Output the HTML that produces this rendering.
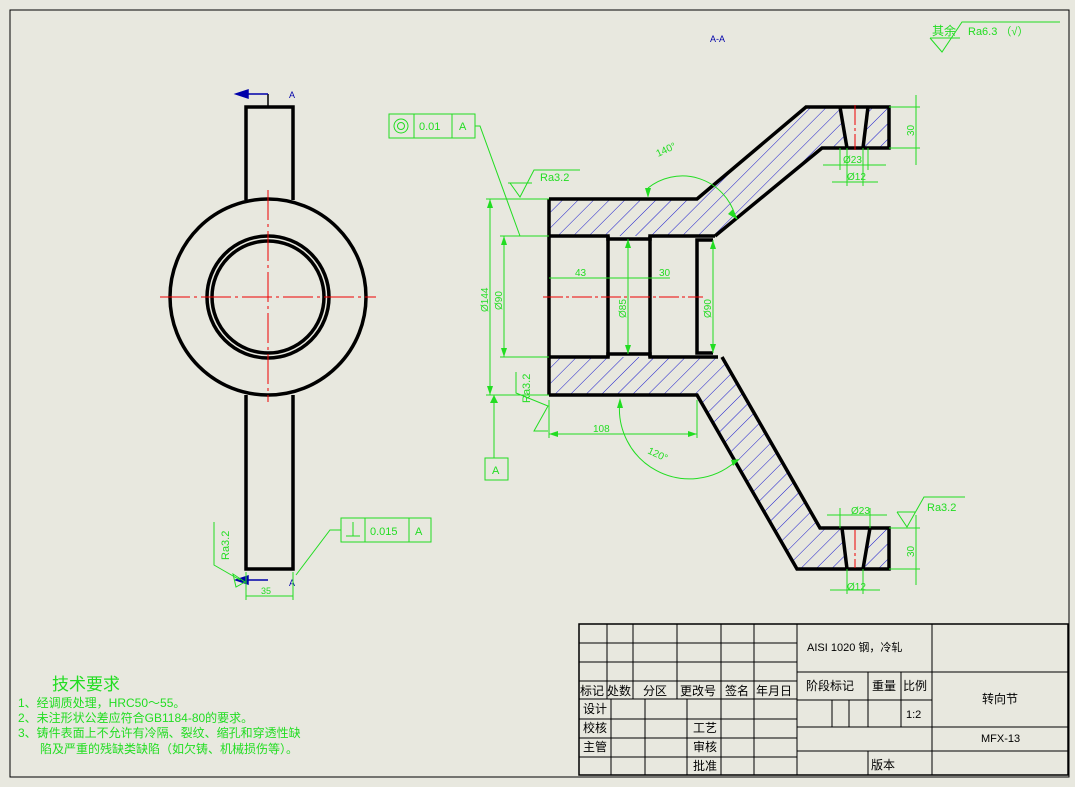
<!DOCTYPE html>
<html><head><meta charset="utf-8"><style>
html,body{margin:0;padding:0;background:#e8e8df;}
svg{display:block}
text{font-family:"Liberation Sans","Noto Sans CJK SC",sans-serif;}
</style></head><body>
<svg width="1075" height="787" viewBox="0 0 1075 787" xmlns="http://www.w3.org/2000/svg">
<defs>
<pattern id="h" patternUnits="userSpaceOnUse" width="11" height="11" patternTransform="rotate(45)">
<line x1="0" y1="0" x2="0" y2="11" stroke="#1a1acc" stroke-width="1"/>
</pattern>
</defs>
<rect width="1075" height="787" fill="#e8e8df"/>
<rect x="10" y="10" width="1059" height="767" fill="none" stroke="#000" stroke-width="1"/>

<g stroke="#000" stroke-width="3.5" fill="none">
<circle cx="268" cy="297" r="98"/>
<circle cx="268" cy="297" r="61"/>
<circle cx="268" cy="297" r="56"/>
<polyline points="246,200 246,107 293,107 293,200"/>
<polyline points="246,395 246,569 293,569 293,395"/>
</g>
<g stroke="#e00" stroke-width="1">
<line x1="268" y1="190" x2="268" y2="402" stroke-dasharray="30,4,3,4"/>
<line x1="160" y1="297" x2="376" y2="297" stroke-dasharray="30,4,3,4"/>
</g>
<g stroke="#00a" stroke-width="1.5" fill="#00a">
<line x1="268" y1="94" x2="268" y2="107" stroke="#000"/>
<line x1="240" y1="94" x2="268" y2="94"/><polygon points="236,94 248,90 248,98"/>
<line x1="240" y1="580" x2="268" y2="580"/><polygon points="236,580 248,576 248,584"/>
</g>
<text x="289" y="98" font-size="9" fill="#00a">A</text>
<text x="289" y="586" font-size="9" fill="#00a">A</text>
<text x="710" y="42" font-size="9" fill="#00a">A-A</text>

<g stroke="#2d2" stroke-width="1" fill="none">
<line x1="246" y1="572" x2="246" y2="600"/><line x1="293" y1="572" x2="293" y2="600"/>
<line x1="246" y1="596" x2="293" y2="596"/>
<polyline points="214,522 214,565 240,580"/>
<polygon points="233,574 245,582 236,587"/>
<rect x="341" y="518" width="90" height="24"/>
<line x1="365" y1="518" x2="365" y2="542"/><line x1="409" y1="518" x2="409" y2="542"/>
<line x1="346" y1="536" x2="360" y2="536"/><line x1="353" y1="522" x2="353" y2="536"/>
<polyline points="341,530 330,530 296,575"/>
</g>
<text x="261" y="594" font-size="9" fill="#2d2">35</text>
<text transform="translate(229,560) rotate(-90)" font-size="11" fill="#2d2">Ra3.2</text>
<text x="370" y="535" font-size="11" fill="#2d2">0.015</text>
<text x="415" y="535" font-size="11" fill="#2d2">A</text>

<polygon points="549,199 697,199 806,107 889,107 889,148 822,148 715,236 549,236" fill="url(#h)"/>
<polygon points="549,357 722,357 820,528 889,528 889,569 797,569 697,395 549,395" fill="url(#h)"/>
<polygon points="840,107 868,107 863,148 847,148" fill="#e8e8df"/>
<polygon points="842,528 870,528 863,569 847,569" fill="#e8e8df"/>
<g stroke="#000" stroke-width="3.5" fill="none" stroke-linejoin="miter">
<polyline points="549,199 697,199 806,107 889,107 889,148 822,148 715,236"/>
<polyline points="549,395 697,395 797,569 889,569 889,528 820,528 722,357"/>
<line x1="549" y1="199" x2="549" y2="395"/>
<polyline points="549,236 608,236 608,239 650,239 650,236 715,236"/>
<polyline points="549,357 608,357 608,354 650,354 650,357 718,357"/>
<line x1="608" y1="236" x2="608" y2="357"/>
<line x1="650" y1="236" x2="650" y2="357"/>
<polyline points="713,240 697,240 697,353 713,353"/>
<line x1="840" y1="107" x2="847" y2="148"/><line x1="868" y1="107" x2="863" y2="148"/>
<line x1="842" y1="528" x2="847" y2="569"/><line x1="870" y1="528" x2="863" y2="569"/>
</g>
<g stroke="#e00" stroke-width="1" stroke-dasharray="20,3,3,3">
<line x1="543" y1="297" x2="703" y2="297"/>
<line x1="855" y1="105" x2="855" y2="150"/>
<line x1="855" y1="530" x2="855" y2="568"/>
</g>

<g stroke="#2d2" stroke-width="1" fill="none">
<line x1="486" y1="199" x2="549" y2="199"/><line x1="490" y1="199" x2="490" y2="395"/>
<line x1="486" y1="395" x2="549" y2="395"/>
<line x1="500" y1="236" x2="549" y2="236"/><line x1="504" y1="236" x2="504" y2="357"/>
<line x1="500" y1="357" x2="549" y2="357"/>
<line x1="549" y1="278" x2="670" y2="278"/>
<line x1="628" y1="239" x2="628" y2="354"/>
<line x1="713" y1="240" x2="713" y2="353"/>
<line x1="549" y1="400" x2="549" y2="438"/><line x1="697" y1="400" x2="697" y2="438"/>
<line x1="549" y1="434" x2="697" y2="434"/>
<path d="M648,188 A55,55 0 0 1 735,215"/>
<path d="M620,400 A70,70 0 0 0 735,462"/>
<line x1="889" y1="107" x2="920" y2="107"/><line x1="889" y1="148" x2="920" y2="148"/>
<line x1="916" y1="95" x2="916" y2="165"/>
<line x1="889" y1="528" x2="920" y2="528"/><line x1="889" y1="569" x2="920" y2="569"/>
<line x1="916" y1="515" x2="916" y2="585"/>
<line x1="840" y1="148" x2="840" y2="170"/><line x1="868" y1="148" x2="868" y2="170"/>
<line x1="823" y1="165" x2="886" y2="165"/>
<line x1="847" y1="148" x2="847" y2="186"/><line x1="863" y1="148" x2="863" y2="186"/>
<line x1="832" y1="182" x2="878" y2="182"/>
<line x1="840" y1="508" x2="840" y2="528"/><line x1="870" y1="508" x2="870" y2="528"/>
<line x1="827" y1="515" x2="887" y2="515"/>
<line x1="847" y1="569" x2="847" y2="594"/><line x1="863" y1="569" x2="863" y2="594"/>
<line x1="830" y1="590" x2="880" y2="590"/>
<rect x="389" y="114" width="86" height="24"/>
<line x1="414" y1="114" x2="414" y2="138"/><line x1="452" y1="114" x2="452" y2="138"/>
<circle cx="401" cy="126" r="7"/><circle cx="401" cy="126" r="3.5"/>
<polyline points="475,126 480,126 520,236"/>
<polyline points="510,183 520,197 534,170 580,170"/><line x1="508" y1="183" x2="532" y2="183"/>
<polyline points="516,372 516,393 548,406 534,431 548,431"/>
<line x1="494" y1="395" x2="494" y2="458"/><rect x="485" y="458" width="23" height="22"/>
<polyline points="897,512 907,527 924,497 965,497"/><line x1="897" y1="512" x2="915" y2="512"/>
<polyline points="930,38 942,52 962,22 1060,22"/><line x1="930" y1="38" x2="960" y2="38"/>
</g>
<g fill="#2d2">
<polygon points="490,199 487,208 493,208"/><polygon points="490,395 487,386 493,386"/>
<polygon points="504,236 501,245 507,245"/><polygon points="504,357 501,348 507,348"/>
<polygon points="628,239 625,248 631,248"/><polygon points="628,354 625,345 631,345"/>
<polygon points="713,240 710,249 716,249"/><polygon points="713,353 710,344 716,344"/>
<polygon points="549,434 558,431 558,437"/><polygon points="697,434 688,431 688,437"/>
<polygon points="494,395 490,403 498,403"/>
<polygon points="648,198 645,188 651,188"/><polygon points="738,220 728,214 733,209"/>
<polygon points="620,398 617,408 623,408"/><polygon points="740,459 731,460 733,466"/>
</g>
<g fill="#2d2" font-size="10">
<text transform="translate(488,312) rotate(-90)">Ø144</text>
<text transform="translate(502,310) rotate(-90)">Ø90</text>
<text transform="translate(626,318) rotate(-90)">Ø85</text>
<text transform="translate(711,318) rotate(-90)">Ø90</text>
<text x="575" y="276">43</text><text x="659" y="276">30</text>
<text x="593" y="432">108</text>
<text x="658" y="157" transform="rotate(-25 658 157)">140°</text>
<text x="647" y="453" transform="rotate(25 647 453)">120°</text>
<text transform="translate(914,136) rotate(-90)">30</text>
<text transform="translate(914,557) rotate(-90)">30</text>
<text x="843" y="163">Ø23</text><text x="847" y="180">Ø12</text>
<text x="851" y="514">Ø23</text><text x="847" y="590">Ø12</text>
<text x="419" y="130" font-size="11">0.01</text><text x="459" y="130" font-size="11">A</text>
<text x="540" y="181" font-size="11">Ra3.2</text>
<text transform="translate(530,403) rotate(-90)" font-size="11">Ra3.2</text>
<text x="492" y="474" font-size="11">A</text>
<text x="927" y="511" font-size="11">Ra3.2</text>
<text x="932" y="35" font-size="12">其余</text>
<text x="968" y="35" font-size="11">Ra6.3  （√）</text>
</g>

<g fill="#2d2">
<text x="52" y="690" font-size="17">技术要求</text>
<text x="18" y="707" font-size="12">1、经调质处理，HRC50～55。</text>
<text x="18" y="722" font-size="12">2、未注形状公差应符合GB1184-80的要求。</text>
<text x="18" y="737" font-size="12">3、铸件表面上不允许有冷隔、裂纹、缩孔和穿透性缺</text>
<text x="40" y="753" font-size="12">陷及严重的残缺类缺陷（如欠铸、机械损伤等）。</text>
</g>

<g stroke="#000" stroke-width="1" fill="none">
<rect x="579" y="624" width="489" height="151" stroke-width="1.5"/>
<line x1="579" y1="643" x2="797" y2="643"/><line x1="579" y1="662" x2="797" y2="662"/>
<line x1="579" y1="681" x2="797" y2="681"/><line x1="579" y1="699" x2="797" y2="699"/>
<line x1="579" y1="719" x2="797" y2="719"/><line x1="579" y1="738" x2="797" y2="738"/>
<line x1="579" y1="757" x2="797" y2="757"/>
<line x1="607" y1="624" x2="607" y2="699"/><line x1="633" y1="624" x2="633" y2="699"/>
<line x1="677" y1="624" x2="677" y2="699"/>
<line x1="611" y1="699" x2="611" y2="775"/><line x1="645" y1="699" x2="645" y2="775"/>
<line x1="687" y1="699" x2="687" y2="775"/>
<line x1="721" y1="624" x2="721" y2="775"/><line x1="754" y1="624" x2="754" y2="775"/>
<line x1="797" y1="624" x2="797" y2="775"/><line x1="932" y1="624" x2="932" y2="775"/>
<line x1="797" y1="672" x2="1068" y2="672"/><line x1="797" y1="700" x2="932" y2="700"/>
<line x1="797" y1="727" x2="1068" y2="727"/><line x1="797" y1="751" x2="1068" y2="751"/>
<line x1="868" y1="672" x2="868" y2="727"/><line x1="901" y1="672" x2="901" y2="727"/>
<line x1="832" y1="700" x2="832" y2="727"/><line x1="849" y1="700" x2="849" y2="727"/>
<line x1="868" y1="751" x2="868" y2="775"/>
</g>
<g fill="#000" font-size="12">
<text x="580" y="695">标记</text><text x="607" y="695">处数</text><text x="643" y="695">分区</text>
<text x="680" y="695">更改号</text><text x="725" y="695">签名</text><text x="756" y="695">年月日</text>
<text x="583" y="713">设计</text><text x="583" y="732">校核</text><text x="583" y="751">主管</text>
<text x="693" y="732">工艺</text><text x="693" y="751">审核</text><text x="693" y="770">批准</text>
<text x="807" y="651" font-size="11">AISI 1020 钢，冷轧</text>
<text x="806" y="690">阶段标记</text><text x="872" y="690">重量</text><text x="903" y="690">比例</text>
<text x="906" y="718" font-size="11">1:2</text>
<text x="871" y="769">版本</text>
<text x="982" y="703">转向节</text>
<text x="981" y="742" font-size="11">MFX-13</text>
</g>
</svg>
</body></html>
